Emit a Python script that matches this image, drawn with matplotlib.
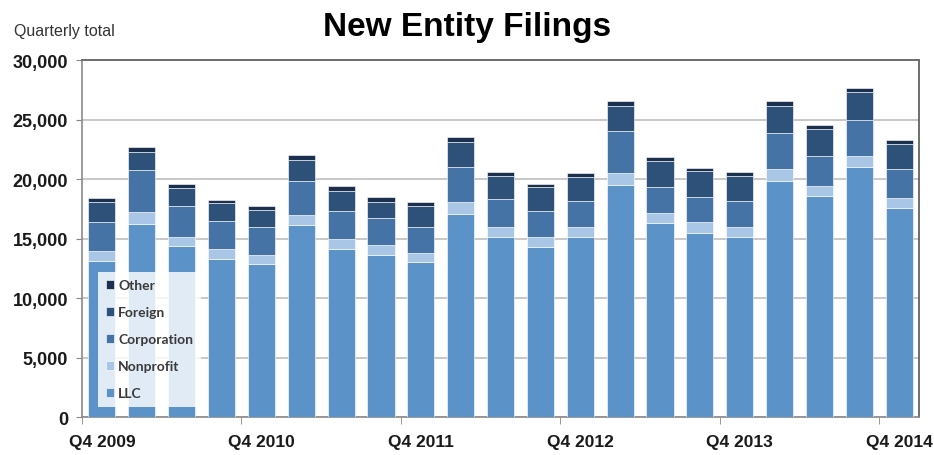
"""New entity filings by quarter, stacked by entity type."""

# ---------- Imports ---------- #
import numpy as np
import matplotlib

matplotlib.use("Agg")
import matplotlib.pyplot as plt
from matplotlib.ticker import FixedLocator, FuncFormatter

# ---------- Data ---------- #
quarters = [
    "Q4 2009", "Q1 2010", "Q2 2010", "Q3 2010",
    "Q4 2010", "Q1 2011", "Q2 2011", "Q3 2011",
    "Q4 2011", "Q1 2012", "Q2 2012", "Q3 2012",
    "Q4 2012", "Q1 2013", "Q2 2013", "Q3 2013",
    "Q4 2013", "Q1 2014", "Q2 2014", "Q3 2014",
    "Q4 2014",
]
llc = [13150, 16200, 14340, 13280, 12860, 16130, 14120, 13610, 13000, 17060,
       15100, 14310, 15100, 19500, 16270, 15460, 15150, 19860, 18540, 20980,
       17560]
nonprofit = [800, 1050, 760, 840, 750, 840, 840, 840, 780, 980,
             840, 790, 840, 1000, 840, 900, 790, 980, 900, 980,
             840]
corporation = [2450, 3530, 2660, 2380, 2330, 2830, 2380, 2240, 2210, 2940,
               2380, 2240, 2240, 3560, 2240, 2150, 2240, 3030, 2520, 3020,
               2440]
foreign = [1650, 1520, 1460, 1480, 1460, 1830, 1680, 1400, 1710, 2100,
           1900, 1960, 2010, 2100, 2130, 2130, 2040, 2290, 2240, 2300,
           2100]
other = [350, 360, 360, 280, 370, 390, 360, 370, 390, 420,
         340, 280, 310, 420, 340, 280, 340, 370, 360, 340,
         370]

series_names = ["LLC", "Nonprofit", "Corporation", "Foreign", "Other"]
series_colors = ["#5b93c9", "#a9c6e6", "#4573a6", "#2e5179", "#1b2f4e"]

label_font = ["Liberation Sans", "DejaVu Sans"]


# ---------- Plot ---------- #
def main():
    fig = plt.figure(figsize=(9.34, 4.56), dpi=100)
    ax = fig.add_axes([0.0878, 0.0833, 0.8962, 0.7827])

    x = np.arange(len(quarters))
    bottom = np.zeros(len(quarters))
    handles = []
    for name, values, color in zip(
        series_names, [llc, nonprofit, corporation, foreign, other], series_colors
    ):
        bars = ax.bar(
            x, values, width=0.68, bottom=bottom, color=color, label=name,
            edgecolor=(1, 1, 1, 0.6), linewidth=0.7, zorder=3,
        )
        handles.append(bars)
        bottom += np.array(values)

    ax.set_xlim(-0.5, 20.5)
    ax.set_ylim(0, 30000)

    # y axis
    ax.yaxis.set_major_locator(FixedLocator(np.arange(0, 30001, 5000)))
    ax.yaxis.set_major_formatter(FuncFormatter(lambda v, p: f"{int(v):,}"))
    ax.grid(axis="y", color="#c8c8c8", linewidth=1.4, zorder=0)
    ax.tick_params(axis="y", length=4, color="#888888", pad=6)

    # x axis: labels every year, ticks on category boundaries
    ax.set_xticks(x[::4])
    ax.set_xticklabels(quarters[::4])
    ax.set_xticks(np.arange(-0.5, 20, 4), minor=True)
    ax.tick_params(axis="x", which="major", length=0, pad=12)
    ax.tick_params(axis="x", which="minor", length=5, color="#888888")

    for lab in ax.get_yticklabels() + ax.get_xticklabels():
        lab.set_fontfamily(label_font)
        lab.set_fontweight("bold")
        lab.set_color("#1a1a1a")
    for lab in ax.get_yticklabels():
        lab.set_fontsize(13)
    for lab in ax.get_xticklabels():
        lab.set_fontsize(12.5)

    for side in ["left", "bottom", "right"]:
        ax.spines[side].set_color("#8a8a8a")
        ax.spines[side].set_linewidth(1.2)
    ax.spines["right"].set_color("#555555")
    ax.spines["top"].set_color("#6e6e6e")
    ax.spines["top"].set_linewidth(1.4)

    # legend, top entry first
    leg = ax.legend(
        handles[::-1], series_names[::-1],
        loc="lower left", bbox_to_anchor=(0.019, 0.028), borderaxespad=0,
        frameon=True, fancybox=False, framealpha=0.82,
        facecolor="white", edgecolor="none",
        handlelength=0.6, handleheight=0.6, handletextpad=0.3,
        labelspacing=1.08, borderpad=0.55,
        prop={"family": ["Lato", "DejaVu Sans"], "weight": "bold", "size": 10},
    )
    leg.set_zorder(5)
    for t in leg.get_texts():
        t.set_color("#3a3a3a")

    fig.text(0.5, 0.939, "New Entity Filings", ha="center", va="center",
             fontsize=24, fontweight="bold", family=label_font)
    fig.text(0.015, 0.93, "Quarterly total", ha="left", va="center",
             fontsize=11.5, color="#333333", family=label_font)

    fig.savefig("out.png", dpi=100)
    plt.close(fig)
    return 0


if __name__ == "__main__":
    main()
